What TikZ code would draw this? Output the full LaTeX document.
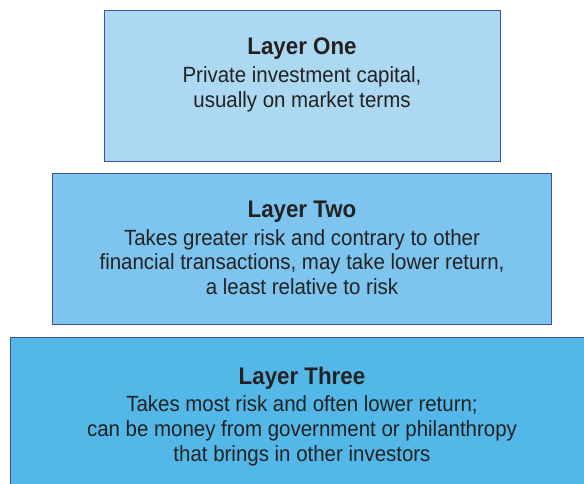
\documentclass[tikz,border=0pt]{standalone}
\usepackage{fontspec}
\setmainfont{Liberation Sans}[FakeStretch=0.93]
\definecolor{fillA}{HTML}{ADD8F2}
\definecolor{fillB}{HTML}{7DC4EE}
\definecolor{fillC}{HTML}{53B8E8}
\definecolor{edgeC}{HTML}{3F4FA0}
\definecolor{txt}{HTML}{222222}
\newcommand{\layertitle}[1]{{\bfseries\fontsize{24}{25}\selectfont #1}\\[3pt]}
\begin{document}
\begin{tikzpicture}[x=1pt,y=1pt,
  layerbox/.style={draw=edgeC,line width=1pt},
  layertext/.style={anchor=north,align=center,text=txt,inner sep=0pt,
    font=\fontsize{22}{24.8}\selectfont}]
\useasboundingbox (0,0) rectangle (584,484);
\clip (0,0) rectangle (584,484);
\fill[white] (0,0) rectangle (584,484);
\draw[layerbox,fill=fillA] (104,473) rectangle (500,322);
\draw[layerbox,fill=fillB] (52,310) rectangle (551,159);
\draw[layerbox,fill=fillC] (10,146) rectangle (594,-10);
\node[layertext] (one) at (302,446.5) {\layertitle{Layer One}Private investment capital,\\usually on market terms};
\node[layertext] (two) at (302,283.5) {\layertitle{Layer Two}Takes greater risk and contrary to other\\financial transactions, may take lower return,\\a least relative to risk};
\node[layertext] (three) at (302,117.5) {\layertitle{Layer Three}Takes most risk and often lower return;\\can be money from government or philanthropy\\that brings in other investors};
\end{tikzpicture}
\end{document}
